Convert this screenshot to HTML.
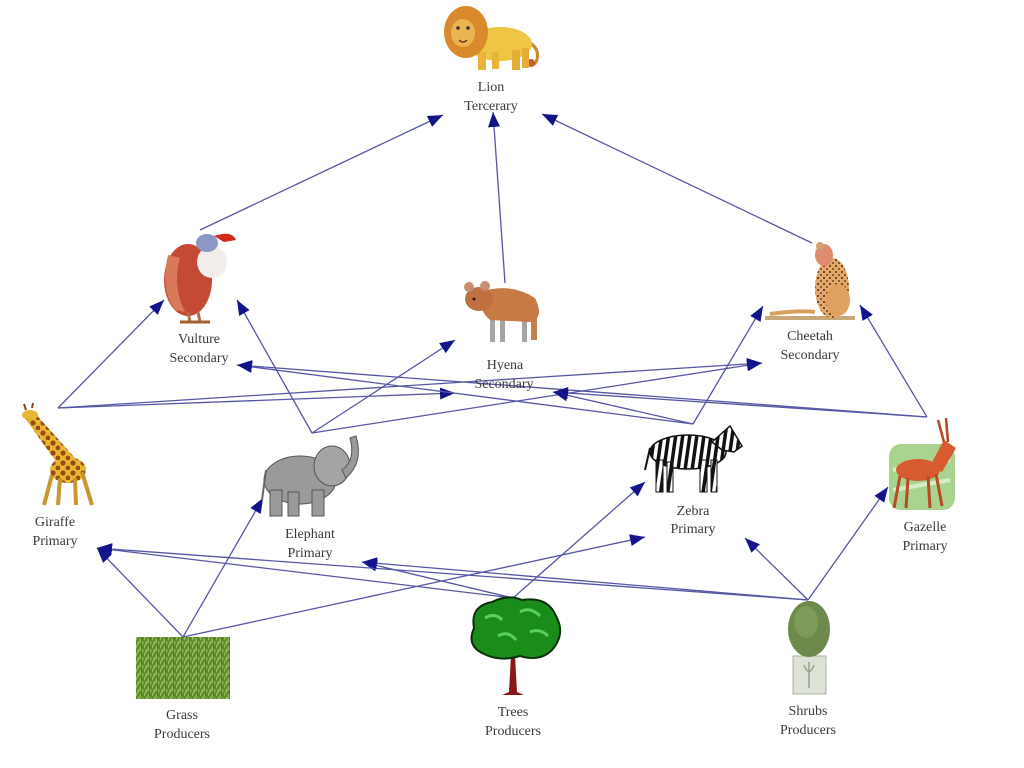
<!DOCTYPE html>
<html><head><meta charset="utf-8"><style>
html,body{margin:0;padding:0;background:#fff;width:1024px;height:768px;overflow:hidden}
svg{display:block}
text{font-family:"Liberation Serif",serif;font-size:14px;fill:#3a3a3a;text-anchor:middle}
</style></head><body>
<svg width="1024" height="768" viewBox="0 0 1024 768" xmlns="http://www.w3.org/2000/svg">
<defs>
<marker id="ah" markerUnits="userSpaceOnUse" markerWidth="16" markerHeight="12" refX="15" refY="6" orient="auto">
<path d="M0,0 L15,6 L0,12 z" fill="#14148a"/>
</marker>
<pattern id="stripes" width="7" height="40" patternUnits="userSpaceOnUse" patternTransform="rotate(8)">
<rect width="7" height="40" fill="#fff"/><rect width="3.5" height="40" fill="#111"/>
</pattern>
<pattern id="grassp" width="8" height="8" patternUnits="userSpaceOnUse">
<rect width="8" height="8" fill="#5e8f30"/>
<path d="M0,8 L3,1 M4,8 L7,2 M2,4 L5,0" stroke="#9cc060" stroke-width="1.2"/>
<path d="M6,8 L5,3" stroke="#3e6a1e" stroke-width="1"/>
</pattern>
<pattern id="spots" width="10" height="10" patternUnits="userSpaceOnUse">
<rect width="10" height="10" fill="#e8b632"/>
<circle cx="3" cy="3" r="2.6" fill="#9a4a14"/><circle cx="8" cy="8" r="2.4" fill="#9a4a14"/>
</pattern>
<pattern id="cspots" width="6" height="6" patternUnits="userSpaceOnUse">
<rect width="6" height="6" fill="#e6a868"/>
<circle cx="2" cy="2" r="1" fill="#3a2a1a"/><circle cx="5" cy="5" r="0.9" fill="#3a2a1a"/>
</pattern>
</defs>
<rect width="1024" height="768" fill="#fff"/>

<!-- connectors -->
<g stroke="#5656a6" stroke-width="1.3" fill="none" marker-end="url(#ah)">
<line x1="200" y1="230" x2="443" y2="115"/>
<line x1="505" y1="283" x2="493" y2="112"/>
<line x1="812" y1="243" x2="542" y2="114"/>
<line x1="58" y1="408" x2="164" y2="300"/>
<line x1="58" y1="408" x2="455" y2="393"/>
<line x1="58" y1="408" x2="762" y2="363"/>
<line x1="312" y1="433" x2="237" y2="300"/>
<line x1="312" y1="433" x2="455" y2="340"/>
<line x1="312" y1="433" x2="762" y2="363"/>
<line x1="693" y1="424" x2="237" y2="365"/>
<line x1="693" y1="424" x2="553" y2="392"/>
<line x1="693" y1="424" x2="763" y2="306"/>
<line x1="927" y1="417" x2="237" y2="365"/>
<line x1="927" y1="417" x2="553" y2="392"/>
<line x1="927" y1="417" x2="860" y2="305"/>
<line x1="183" y1="637" x2="97" y2="548"/>
<line x1="183" y1="637" x2="263" y2="498"/>
<line x1="183" y1="637" x2="645" y2="537"/>
<line x1="513" y1="598" x2="97" y2="548"/>
<line x1="513" y1="598" x2="362" y2="562"/>
<line x1="513" y1="598" x2="645" y2="482"/>
<line x1="808" y1="600" x2="97" y2="548"/>
<line x1="808" y1="600" x2="362" y2="562"/>
<line x1="808" y1="600" x2="745" y2="538"/>
<line x1="808" y1="600" x2="888" y2="487"/>
</g>

<!-- Lion -->
<g>
<path d="M525,40 Q542,48 536,62 Q532,68 528,62" stroke="#c88a2a" stroke-width="3" fill="none"/>
<circle cx="531" cy="63" r="4" fill="#c0602a"/>
<ellipse cx="500" cy="44" rx="32" ry="17" fill="#f0c444"/>
<rect x="478" y="52" width="8" height="18" fill="#e8b43a"/>
<rect x="492" y="52" width="7" height="17" fill="#e8b43a"/>
<rect x="512" y="50" width="8" height="20" fill="#e4ae36"/>
<rect x="522" y="48" width="7" height="20" fill="#e4ae36"/>
<ellipse cx="466" cy="32" rx="22" ry="26" fill="#d88a2c"/>
<ellipse cx="463" cy="33" rx="12" ry="14" fill="#eab450"/>
<circle cx="458" cy="28" r="1.8" fill="#333"/><circle cx="468" cy="28" r="1.8" fill="#333"/>
<path d="M459,40 Q463,44 467,40" stroke="#733" stroke-width="1.5" fill="none"/>
</g>
<text x="491" y="91">Lion</text>
<text x="491" y="110">Tercerary</text>

<!-- Vulture -->
<g>
<ellipse cx="188" cy="280" rx="24" ry="36" fill="#c44a36"/>
<path d="M168,255 Q160,290 175,310 L185,312 Q172,285 180,258 z" fill="#d87a5a"/>
<ellipse cx="212" cy="262" rx="15" ry="16" fill="#f2ecea"/>
<ellipse cx="207" cy="243" rx="11" ry="9" fill="#8a98c8"/>
<path d="M214,236 Q232,230 236,240 L224,242 z" fill="#d42a1a"/>
<line x1="188" y1="312" x2="190" y2="322" stroke="#b07040" stroke-width="3"/>
<line x1="198" y1="312" x2="200" y2="322" stroke="#b07040" stroke-width="3"/>
<path d="M180,322 L210,322" stroke="#a06030" stroke-width="3"/>
</g>
<text x="199" y="343">Vulture</text>
<text x="199" y="362">Secondary</text>

<!-- Hyena -->
<g>
<rect x="490" y="312" width="5" height="30" fill="#a4a4a4"/>
<rect x="500" y="312" width="5" height="30" fill="#a4a4a4"/>
<rect x="522" y="312" width="5" height="30" fill="#a4a4a4"/>
<rect x="531" y="310" width="6" height="30" fill="#c08050"/>
<path d="M480,292 Q510,282 535,298 Q545,318 530,322 L490,320 Q478,310 480,292 z" fill="#c87a44"/>
<ellipse cx="479" cy="299" rx="14" ry="12" fill="#c07040"/>
<circle cx="469" cy="287" r="5" fill="#c89070"/><circle cx="485" cy="286" r="5" fill="#c89070"/>
<circle cx="474" cy="299" r="1.5" fill="#222"/>
</g>
<text x="505" y="369">Hyena</text>
<text x="504" y="388">Secondary</text>

<!-- Cheetah -->
<g>
<path d="M765,316 L855,316 L855,320 L765,320 z" fill="#c8a878"/>
<path d="M770,314 Q800,310 815,312" stroke="#d8a060" stroke-width="4" fill="none"/>
<ellipse cx="832" cy="288" rx="17" ry="30" fill="url(#cspots)"/>
<ellipse cx="838" cy="300" rx="12" ry="16" fill="#e0a060"/>
<ellipse cx="824" cy="255" rx="9" ry="11" fill="#e08a70"/>
<circle cx="820" cy="246" r="4" fill="#d0a070"/>
</g>
<text x="810" y="340">Cheetah</text>
<text x="810" y="359">Secondary</text>

<!-- Giraffe -->
<g>
<path d="M22,414 L32,410 L75,458 L62,470 z" fill="url(#spots)"/>
<ellipse cx="30" cy="415" rx="8" ry="5" fill="#e8b632"/>
<path d="M26,410 L24,404 M32,408 L33,403" stroke="#8a4a14" stroke-width="2"/>
<ellipse cx="68" cy="470" rx="18" ry="13" fill="url(#spots)"/>
<path d="M52,475 L44,505" stroke="#c8962a" stroke-width="4"/>
<path d="M60,478 L58,505" stroke="#c8962a" stroke-width="4"/>
<path d="M75,478 L76,505" stroke="#c8962a" stroke-width="4"/>
<path d="M82,472 L92,505" stroke="#c8962a" stroke-width="4"/>
</g>
<text x="55" y="526">Giraffe</text>
<text x="55" y="545">Primary</text>

<!-- Elephant -->
<g>
<ellipse cx="300" cy="480" rx="36" ry="24" fill="#9a9a9c" stroke="#555" stroke-width="1"/>
<rect x="270" y="490" width="12" height="26" fill="#9a9a9c" stroke="#555" stroke-width="1"/>
<rect x="288" y="492" width="11" height="24" fill="#9a9a9c" stroke="#555" stroke-width="1"/>
<rect x="312" y="490" width="12" height="26" fill="#9a9a9c" stroke="#555" stroke-width="1"/>
<ellipse cx="332" cy="466" rx="18" ry="20" fill="#a4a4a6" stroke="#555" stroke-width="1"/>
<path d="M342,470 Q356,460 350,438 L356,436 Q364,462 346,478 z" fill="#9a9a9c" stroke="#555" stroke-width="1"/>
<path d="M266,470 L262,500" stroke="#666" stroke-width="2"/>
</g>
<text x="310" y="538">Elephant</text>
<text x="310" y="557">Primary</text>

<!-- Zebra -->
<g>
<ellipse cx="688" cy="452" rx="38" ry="17" fill="url(#stripes)" stroke="#111" stroke-width="1.5"/>
<path d="M712,442 L730,426 L742,446 L734,452 L722,450 z" fill="url(#stripes)" stroke="#111" stroke-width="1.5"/>
<rect x="656" y="460" width="7" height="32" fill="url(#stripes)" stroke="#111"/>
<rect x="667" y="462" width="6" height="30" fill="url(#stripes)" stroke="#111"/>
<rect x="700" y="460" width="7" height="32" fill="url(#stripes)" stroke="#111"/>
<rect x="711" y="460" width="6" height="32" fill="url(#stripes)" stroke="#111"/>
<path d="M650,448 L645,470" stroke="#111" stroke-width="2"/>
</g>
<text x="693" y="515">Zebra</text>
<text x="693" y="533">Primary</text>

<!-- Gazelle -->
<g>
<rect x="889" y="444" width="66" height="66" rx="12" fill="#a9d38e"/>
<path d="M893,470 L950,460 M893,490 L950,480" stroke="#d8ecc8" stroke-width="4"/>
<ellipse cx="918" cy="470" rx="22" ry="11" fill="#d85a30"/>
<path d="M930,466 L944,440 L956,448 L942,472 z" fill="#d85a30"/>
<path d="M944,442 L938,420 M948,442 L946,418" stroke="#b04a20" stroke-width="2.5"/>
<path d="M900,476 L894,508 M908,478 L906,508 M928,476 L930,508 M936,474 L942,506" stroke="#b84a24" stroke-width="3"/>
</g>
<text x="925" y="531">Gazelle</text>
<text x="925" y="550">Primary</text>

<!-- Grass -->
<rect x="136" y="637" width="94" height="62" fill="url(#grassp)"/>
<text x="182" y="719">Grass</text>
<text x="182" y="738">Producers</text>

<!-- Trees -->
<g>
<path d="M511,655 L509,692 L502,695 L524,695 L517,692 L515,655 z" fill="#8a1616"/>
<path d="M474,628 Q470,606 492,602 Q508,594 522,600 Q548,596 556,616 Q566,634 552,650 Q540,662 520,656 Q500,662 484,654 Q466,646 474,628 z" fill="#1a8c1a" stroke="#0a300a" stroke-width="2"/>
<path d="M485,618 Q495,612 502,620 M520,612 Q530,606 540,616 M498,636 Q508,630 516,640 M530,632 Q540,628 548,636" stroke="#5ad05a" stroke-width="3" fill="none"/>
</g>
<text x="513" y="716">Trees</text>
<text x="513" y="735">Producers</text>

<!-- Shrubs -->
<g>
<rect x="793" y="656" width="33" height="38" fill="#dde2d6" stroke="#aab0a2" stroke-width="1"/>
<path d="M804,665 Q809,678 814,665 M809,662 L809,688" stroke="#9aa08e" stroke-width="1.5" fill="none"/>
<ellipse cx="809" cy="629" rx="21" ry="28" fill="#6d8a4c"/>
<ellipse cx="806" cy="622" rx="12" ry="16" fill="#7e9a5a"/>
</g>
<text x="808" y="715">Shrubs</text>
<text x="808" y="734">Producers</text>
</svg>
</body></html>
